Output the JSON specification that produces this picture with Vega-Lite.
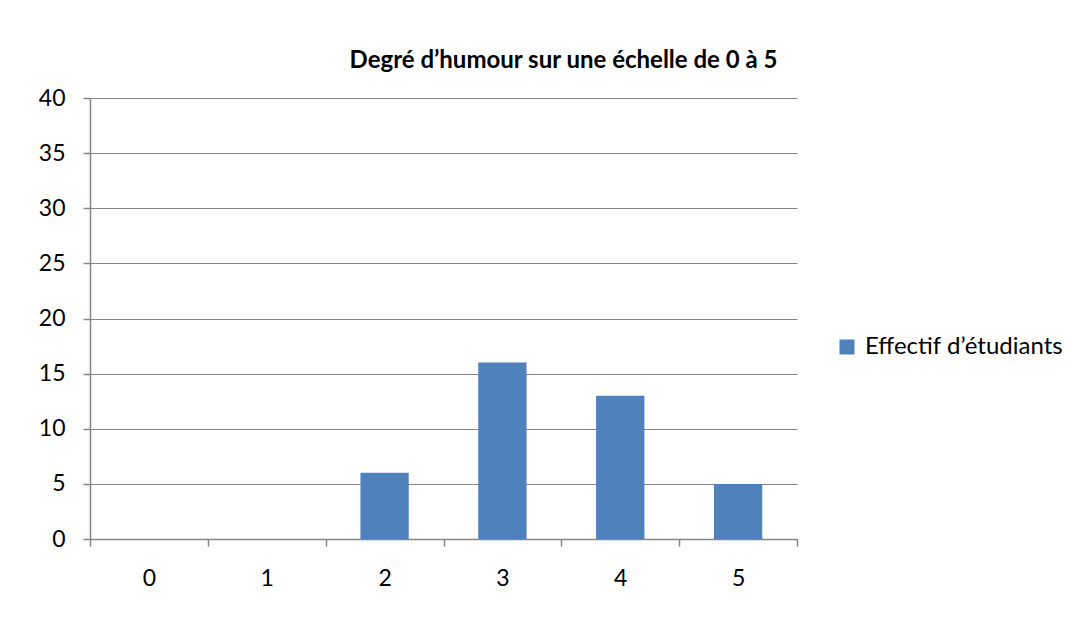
{
  "$schema": "https://vega.github.io/schema/vega-lite/v6.json",
  "autosize": "none",
  "width": 707,
  "height": 441,
  "padding": {"left": 90, "top": 98, "right": 285, "bottom": 80},
  "background": "white",
  "data": {
    "values": [
      {"degre": "0", "effectif": 0, "serie": "Effectif d’étudiants"},
      {"degre": "1", "effectif": 0, "serie": "Effectif d’étudiants"},
      {"degre": "2", "effectif": 6, "serie": "Effectif d’étudiants"},
      {"degre": "3", "effectif": 16, "serie": "Effectif d’étudiants"},
      {"degre": "4", "effectif": 13, "serie": "Effectif d’étudiants"},
      {"degre": "5", "effectif": 5, "serie": "Effectif d’étudiants"}
    ]
  },
  "title": {
    "text": "Degré d’humour sur une échelle de 0 à 5",
    "font": "Lato",
    "fontSize": 24,
    "fontWeight": "bold",
    "color": "black",
    "anchor": "middle",
    "dx": 120,
    "dy": 36,
    "baseline": "alphabetic",
    "offset": 31
  },
  "mark": {"type": "bar", "width": {"band": 0.41}},
  "encoding": {
    "x": {
      "field": "degre",
      "type": "ordinal",
      "sort": null,
      "scale": {"paddingInner": 0, "paddingOuter": 0},
      "axis": {
        "title": null,
        "labelAngle": 0,
        "tickBand": "extent",
        "domainColor": "#868686",
        "tickColor": "#868686",
        "tickSize": 7,
        "labelFont": "Lato",
        "labelFontSize": 23,
        "labelColor": "black",
        "labelPadding": 21,
        "grid": false
      }
    },
    "y": {
      "field": "effectif",
      "type": "quantitative",
      "scale": {"domain": [0, 40], "nice": false},
      "axis": {
        "title": null,
        "values": [0, 5, 10, 15, 20, 25, 30, 35, 40],
        "domainColor": "#868686",
        "tickColor": "#868686",
        "gridColor": "#868686",
        "tickSize": 7,
        "labelFont": "Lato",
        "labelFontSize": 23,
        "labelColor": "black",
        "labelPadding": 18
      }
    },
    "color": {
      "field": "serie",
      "type": "nominal",
      "scale": {"range": ["#4F81BD"]},
      "legend": {
        "title": null,
        "orient": "none",
        "legendX": 745,
        "legendY": 237,
        "symbolType": "square",
        "symbolSize": 225,
        "symbolStrokeWidth": 0,
        "labelFont": "Lato",
        "labelFontSize": 24,
        "labelColor": "black",
        "labelOffset": 6,
        "labelLimit": 400
      }
    }
  },
  "config": {
    "view": {"stroke": null},
    "axis": {"domainWidth": 1.5, "tickWidth": 1.5, "gridWidth": 1}
  }
}
